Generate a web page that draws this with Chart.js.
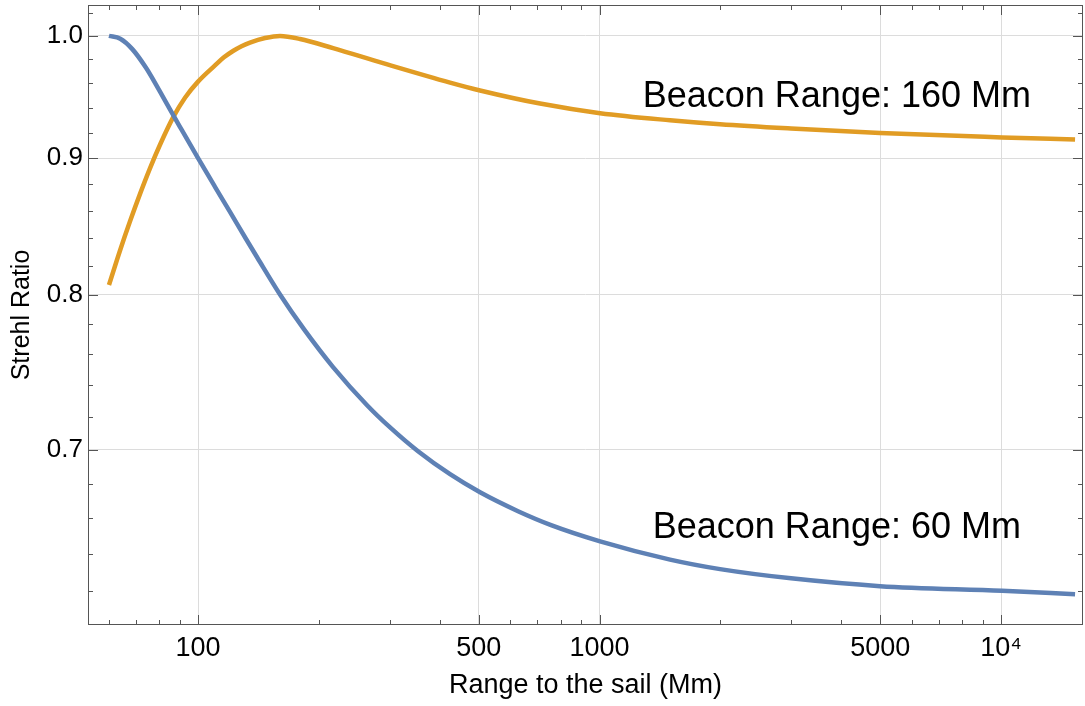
<!DOCTYPE html>
<html>
<head>
<meta charset="utf-8">
<script src="https://cdn.jsdelivr.net/npm/chart.js@4.4.1/dist/chart.umd.min.js"></script>
<style>
  html, body { margin: 0; padding: 0; background: #fff; }
  #wrap { width: 1085px; height: 706px; position: relative; }
</style>
</head>
<body>
<div id="wrap"><canvas id="chart"></canvas></div>
<script>
// beacon at 60 Mm
const rangeBlue = [60, 64, 68.5, 74.2, 80.4, 85.2, 90.2, 100, 110.2, 120.2, 131.7, 140.3, 160, 183.7, 216.9, 263.6, 300.8, 353.1, 424.3, 503.9, 626.6, 757.3, 1003, 1498, 1996, 2999, 4997, 10057, 15288];
const strehlBlue = [1.000, 0.9976, 0.9889, 0.9729, 0.9531, 0.9385, 0.9245, 0.900, 0.8781, 0.8592, 0.8395, 0.8264, 0.8003, 0.7766, 0.7518, 0.7275, 0.7137, 0.6992, 0.6855, 0.6749, 0.6640, 0.6561, 0.6470, 0.6369, 0.6317, 0.6267, 0.6225, 0.6200, 0.6182];

// beacon at 160 Mm
const rangeOrange = [60, 63.9, 67.7, 71.7, 75.9, 80.4, 86.8, 92.8, 100, 110.2, 116, 122.2, 128.3, 134.7, 146.9, 160, 179.5, 216.9, 288.9, 424.3, 503.9, 710.9, 1003, 1498, 1996, 2999, 4997, 10057, 15288];
const strehlOrange = [0.8069, 0.8311, 0.8524, 0.8728, 0.8922, 0.9105, 0.9326, 0.9482, 0.9614, 0.9749, 0.9817, 0.9871, 0.9912, 0.9943, 0.9982, 1.000, 0.9974, 0.9895, 0.9768, 0.9606, 0.9541, 0.9434, 0.9356, 0.9299, 0.9267, 0.9233, 0.9197, 0.9163, 0.9146];

const xTickValues = [60, 70, 80, 90, 100, 200, 300, 400, 500, 600, 700, 800, 900, 1000, 2000, 3000, 4000, 5000, 6000, 7000, 8000, 9000, 10000];
const xMajorTicks = [100, 500, 1000, 5000, 10000];
const xTickLabels = ['100', '500', '1000', '5000', '10\u2074'];

const yTickValues = [0.62, 0.64, 0.66, 0.68, 0.7, 0.72, 0.74, 0.76, 0.78, 0.8, 0.82, 0.84, 0.86, 0.88, 0.9, 0.92, 0.94, 0.96, 0.98, 1.0, 1.02];
const yMajorTicks = [0.7, 0.8, 0.9, 1.0];
const yTickLabels = ['0.7', '0.8', '0.9', '1.0'];

const noteTexts = ['Beacon Range: 160 Mm', 'Beacon Range: 60 Mm'];
const noteRange = [3900, 3900];
const noteStrehl = [0.9404, 0.6491];

const fontFamily = '"Liberation Sans", Arial, Helvetica, sans-serif';
const frameColor = '#555555';
const gridColor = '#dcdcdc';

const frameTicks = {
    id: 'frameTicks',
    afterDatasetsDraw(chart) {
        const { ctx, chartArea: a, scales: { x, y } } = chart;
        ctx.save();
        ctx.strokeStyle = frameColor;
        ctx.lineWidth = 1;
        ctx.beginPath();
        xTickValues.forEach(v => {
            const px = Math.round(x.getPixelForValue(v)) + 0.5;
            const len = xMajorTicks.includes(v) ? 10 : 5;
            ctx.moveTo(px, a.bottom); ctx.lineTo(px, a.bottom - len);
            ctx.moveTo(px, a.top); ctx.lineTo(px, a.top + len);
        });
        yTickValues.forEach(v => {
            const py = Math.round(y.getPixelForValue(v)) + 0.5;
            const len = yMajorTicks.includes(v) ? 10 : 5;
            ctx.moveTo(a.left, py); ctx.lineTo(a.left + len, py);
            ctx.moveTo(a.right, py); ctx.lineTo(a.right - len, py);
        });
        ctx.stroke();
        ctx.strokeRect(a.left + 0.5, a.top + 0.5, a.right - a.left - 1, a.bottom - a.top - 1);
        ctx.restore();
    },
    afterDraw(chart) {
        const { ctx, scales: { x, y } } = chart;
        ctx.save();
        ctx.fillStyle = '#000';
        ctx.font = '36px ' + fontFamily;
        ctx.textAlign = 'center';
        ctx.textBaseline = 'alphabetic';
        noteTexts.forEach((t, i) => {
            ctx.fillText(t, x.getPixelForValue(noteRange[i]), y.getPixelForValue(noteStrehl[i]));
        });
        ctx.restore();
    }
};

new Chart(document.getElementById('chart'), {
    type: 'line',
    data: {
        datasets: [{
            label: 'Beacon Range: 60 Mm',
            data: rangeBlue.map((r, i) => ({ x: r, y: strehlBlue[i] })),
            borderColor: '#5E81B5',
            borderWidth: 4.5,
            pointRadius: 0,
            fill: false,
            cubicInterpolationMode: 'monotone'
        }, {
            label: 'Beacon Range: 160 Mm',
            data: rangeOrange.map((r, i) => ({ x: r, y: strehlOrange[i] })),
            borderColor: '#E19C24',
            borderWidth: 4.5,
            pointRadius: 0,
            fill: false,
            cubicInterpolationMode: 'monotone'
        }]
    },
    plugins: [frameTicks],
    options: {
        responsive: true, maintainAspectRatio: false, animation: false,
        layout: { padding: { top: 5, right: 2, bottom: 0, left: 0 } },
        plugins: { legend: { display: false }, tooltip: { enabled: false } },
        scales: {
            x: {
                type: 'logarithmic', min: 53.2, max: 16000,
                afterBuildTicks: s => { s.ticks = xTickValues.map(v => ({ value: v })); },
                afterFit: s => { s.height = 81; s.paddingLeft = 0; s.paddingRight = 0; },
                border: { display: false },
                grid: {
                    drawTicks: false,
                    color: c => (c.tick && xMajorTicks.includes(c.tick.value)) ? gridColor : 'rgba(0,0,0,0)'
                },
                ticks: {
                    autoSkip: false, maxRotation: 0, padding: 7, color: '#000',
                    font: { family: fontFamily, size: 27 },
                    callback: v => { const i = xMajorTicks.indexOf(v); return i >= 0 ? xTickLabels[i] : ''; }
                },
                title: {
                    display: true, text: 'Range to the sail (Mm)', color: '#000',
                    font: { family: fontFamily, size: 27 },
                    padding: { top: 0, bottom: 4 }
                }
            },
            y: {
                type: 'logarithmic', min: 0.602, max: 1.027,
                afterBuildTicks: s => { s.ticks = yTickValues.map(v => ({ value: v })); },
                afterFit: s => { s.width = 88; s.paddingTop = 0; s.paddingBottom = 0; },
                border: { display: false },
                grid: {
                    drawTicks: false,
                    color: c => (c.tick && yMajorTicks.includes(c.tick.value)) ? gridColor : 'rgba(0,0,0,0)'
                },
                ticks: {
                    autoSkip: false, padding: 5, color: '#000',
                    font: { family: fontFamily, size: 26 },
                    callback: v => { const i = yMajorTicks.indexOf(v); return i >= 0 ? yTickLabels[i] : ''; }
                },
                title: {
                    display: true, text: 'Strehl Ratio', color: '#000',
                    font: { family: fontFamily, size: 25 },
                    padding: { top: 7, bottom: 0 }
                }
            }
        }
    }
});
</script>
</body>
</html>
